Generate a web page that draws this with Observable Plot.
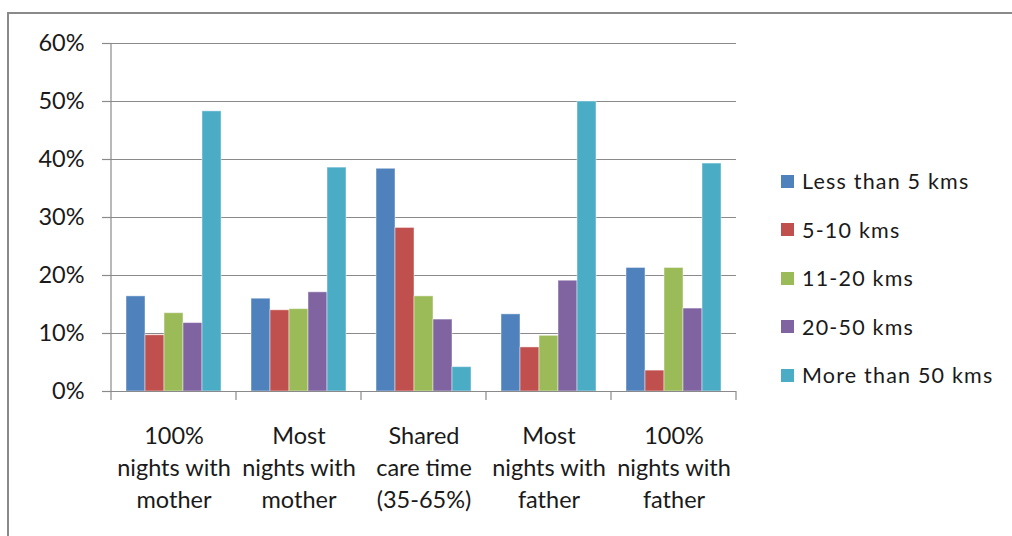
<!DOCTYPE html>
<html>
<head>
<meta charset="utf-8">
<script src="https://cdn.jsdelivr.net/npm/d3@7"></script>
<script src="https://cdn.jsdelivr.net/npm/@observablehq/plot@0.6"></script>
<style>
  html, body { margin: 0; padding: 0; background: #fff; overflow: hidden; }
  #wrap { position: relative; width: 1012px; height: 536px; overflow: hidden; font-family: Lato, "DejaVu Sans", sans-serif; }
  #border { position: absolute; left: 7px; top: 12px; width: 1100px; height: 600px; border: 2px solid #8a8a8a; box-sizing: border-box; }
  #chart { position: absolute; left: 0; top: 0; }
  #legend { position: absolute; left: 781px; top: 157px; }
  .row { height: 48.5px; display: flex; align-items: center; }
  .sw { width: 13px; height: 13px; margin-right: 8px; }
  .lab { font-size: 21.5px; color: #1a1a1a; letter-spacing: 1.2px; white-space: nowrap; }
</style>
</head>
<body>
<div id="wrap">
  <div id="border"></div>
  <div id="chart"></div>
  <div id="legend"></div>
</div>
<script>
const groups = ["100% nights with mother", "Most nights with mother", "Shared care time (35-65%)", "Most nights with father", "100% nights with father"];
const groupLabels = ["100%\nnights with\nmother", "Most\nnights with\nmother", "Shared\ncare time\n(35-65%)", "Most\nnights with\nfather", "100%\nnights with\nfather"];
const series = ["Less than 5 kms", "5-10 kms", "11-20 kms", "20-50 kms", "More than 50 kms"];
const colors = ["#4F81BD", "#C0504D", "#9BBB59", "#8064A2", "#4BACC6"];
// values in percent, one array per series, ordered by groups
const lessThan5 = [16.4, 16.0, 38.4, 13.3, 21.3];
const from5to10 = [9.7, 14.0, 28.2, 7.6, 3.6];
const from11to20 = [13.5, 14.2, 16.4, 9.6, 21.3];
const from20to50 = [11.8, 17.1, 12.4, 19.1, 14.3];
const moreThan50 = [48.3, 38.6, 4.2, 50.0, 39.3];
const yTicks = [0, 10, 20, 30, 40, 50, 60];

const seriesValues = [lessThan5, from5to10, from11to20, from20to50, moreThan50];
const data = [];
groups.forEach((g, gi) => series.forEach((s, si) => data.push({group: g, series: s, value: seriesValues[si][gi]})));

const gridColor = "#8a8a8a";
const plot = Plot.plot({
  width: 1012,
  height: 536,
  marginLeft: 109,
  marginRight: 274,
  marginTop: 43,
  marginBottom: 145,
  style: {fontFamily: "Lato, 'DejaVu Sans', sans-serif", color: "#1a1a1a", background: "transparent", overflow: "visible"},
  fx: {domain: groups, padding: 0, label: null},
  x: {domain: series, paddingInner: 0, paddingOuter: 0.775, axis: null},
  y: {domain: [0, 60], label: null},
  color: {domain: series, range: colors},
  marks: [
    Plot.ruleY(yTicks, {stroke: gridColor, strokeWidth: 1.2}),
    Plot.barY(data, {fx: "group", x: "series", y: "value", fill: "series", inset: 0, stroke: "#fff", strokeOpacity: 0.45, strokeWidth: 1}),
    Plot.ruleY([0], {stroke: gridColor, strokeWidth: 1.2}),
    Plot.axisY({ticks: yTicks, tickSize: 9, tickPadding: 18, tickFormat: d => d + "%", fontSize: 23.5, stroke: gridColor, strokeWidth: 1.2, label: null}),
    Plot.axisFx({anchor: "bottom", tickSize: 0, tickPadding: 29, fontSize: 23.5, lineHeight: 1.38, tickFormat: d => groupLabels[groups.indexOf(d)], label: null})
  ]
});
document.getElementById("chart").appendChild(plot);

// y-axis line and category boundary ticks, placed with the plot's own scales
const ys = plot.scale("y");
const fxs = plot.scale("fx");
const svg = d3.select(plot);
const y0 = ys.apply(0), yTop = ys.apply(60);
const firstX = fxs.apply(groups[0]);
svg.append("line").attr("x1", firstX).attr("x2", firstX).attr("y1", yTop).attr("y2", y0)
  .attr("stroke", gridColor).attr("stroke-width", 1.2);
const bounds = groups.map(g => fxs.apply(g)).concat([fxs.apply(groups[groups.length - 1]) + fxs.bandwidth]);
svg.append("g").selectAll("line").data(bounds).join("line")
  .attr("x1", d => d).attr("x2", d => d).attr("y1", y0).attr("y2", y0 + 9)
  .attr("stroke", gridColor).attr("stroke-width", 1.2);

// legend
const leg = d3.select("#legend");
series.forEach((s, i) => {
  const row = leg.append("div").attr("class", "row");
  row.append("div").attr("class", "sw").style("background", plot.scale("color").apply(s));
  row.append("div").attr("class", "lab").text(s);
});
</script>
</body>
</html>
